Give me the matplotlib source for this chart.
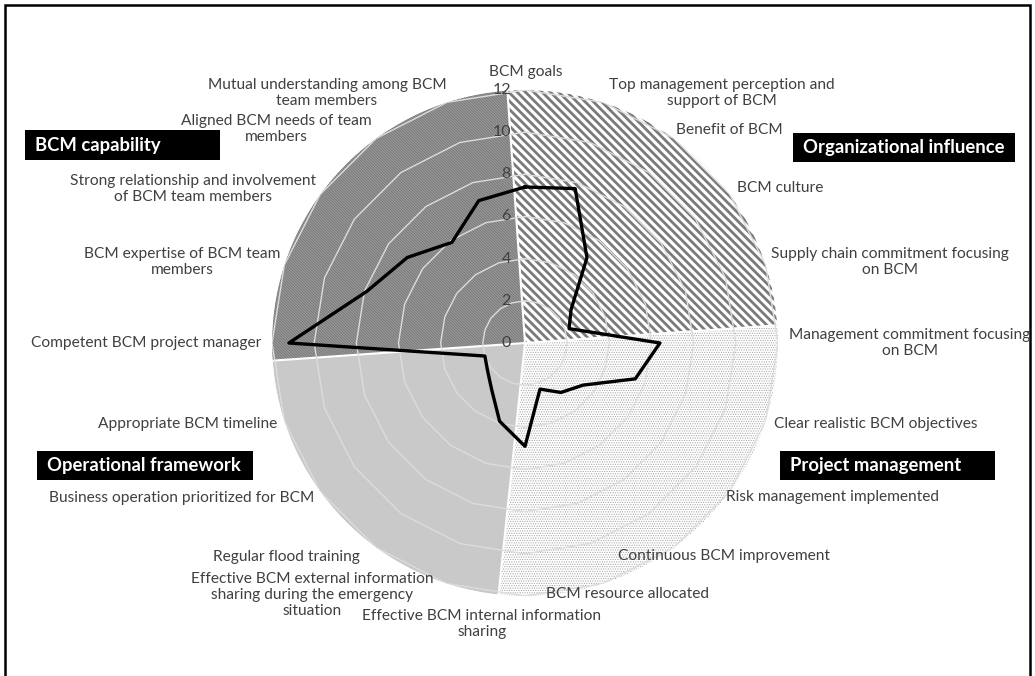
import numpy as np
import matplotlib.pyplot as plt
from matplotlib.patches import Rectangle

# Radar categories, clockwise from the top
categories = [
    "BCM goals",
    "Top management perception and\nsupport of BCM",
    "Benefit of BCM",
    "BCM culture",
    "Supply chain commitment focusing\non BCM",
    "Management commitment focusing\non BCM",
    "Clear realistic BCM objectives",
    "Risk management implemented",
    "Continuous BCM improvement",
    "BCM resource allocated",
    "Effective BCM internal information\nsharing",
    "Effective BCM external information\nsharing during the emergency\nsituation",
    "Regular flood training",
    "Business operation prioritized for BCM",
    "Appropriate BCM timeline",
    "Competent BCM project manager",
    "BCM expertise of BCM team\nmembers",
    "Strong relationship and involvement\nof BCM team members",
    "Aligned BCM needs of team\nmembers",
    "Mutual understanding among BCM\nteam members",
]
scores = [7.4, 7.7, 5.0, 2.7, 2.2, 6.4, 5.5, 3.4, 2.9, 2.3,
          4.9, 3.9, 2.7, 2.2, 2.0, 11.2, 7.9, 6.9, 5.9, 7.1]
ticks = [0, 2, 4, 6, 8, 10, 12]
groups = ["BCM capability", "Organizational influence",
          "Project management", "Operational framework"]

W, H = 1035, 676
cx, cy, R = 525, 343, 253
TEXT = "#404040"

plt.rcParams['font.family'] = ['Lato', 'DejaVu Sans']
fig = plt.figure(figsize=(W / 100, H / 100), dpi=100)

ax = fig.add_axes([(cx - R) / W, (H - cy - R) / H, 2 * R / W, 2 * R / H],
                  projection='polar')
ax.set_theta_zero_location('N')
ax.set_theta_direction(-1)
ax.set_ylim(0, ticks[-1])
ax.axis('off')

# background sectors (start deg, span deg, face, hatch, hatch colour, hatch lw)
sectors = [
    (266, 90, '#9c9c9c', '\\' * 12, '#787878', 0.7),
    (-4, 90, 'white', '\\' * 4, '#7a7a7a', 2.0),
    (86, 100, 'white', '.' * 7, '#a3a3a3', 0.5),
    (186, 80, '#c9c9c9', None, None, 1.0),
]
for start, span, face, hatch, hcol, hlw in sectors:
    th = np.deg2rad(start + span / 2)
    ax.bar(th, ticks[-1], width=np.deg2rad(span), bottom=0, color=face,
           edgecolor='none', zorder=1)
    if hatch:
        with plt.rc_context({'hatch.linewidth': hlw}):
            b = ax.bar(th, ticks[-1], width=np.deg2rad(span), bottom=0,
                       facecolor='none', edgecolor=hcol, linewidth=0,
                       hatch=hatch, zorder=2)
        for p in b:
            if hasattr(p, 'set_hatch_linewidth'):
                p.set_hatch_linewidth(hlw)

# white seams between the sectors
for start, span, *_ in sectors:
    ax.plot([np.deg2rad(start)] * 2, [0, ticks[-1]], color='white',
            lw=1.5, zorder=2.5)

angles = np.deg2rad(np.arange(len(categories)) * 360 / len(categories))
closed = np.append(angles, angles[0])

# polygon gridlines
for t in ticks[1:]:
    ax.plot(closed, [t] * len(closed), color='#dcdcdc', lw=1, zorder=3)

# radial tick labels
for t in ticks:
    ax.annotate(str(t), xy=(0, t), xytext=(-14, 0), textcoords='offset pixels',
                ha='right', va='center', fontsize=11.5, color=TEXT, zorder=6)

# data line
ax.plot(closed, scores + scores[:1], color='black', lw=2.4, zorder=5)

# category labels (pixel centres)
label_xy = [(526, 72), (722, 93), (729, 130), (780, 188), (890, 262),
            (910, 343), (876, 424), (832, 497), (724, 556), (627, 594),
            (482, 624), (312, 595), (286, 557), (182, 498), (188, 424),
            (146, 343), (182, 262), (193, 189), (276, 129), (327, 93)]
for lab, (x, y) in zip(categories, label_xy):
    fig.text(x / W, 1 - y / H, lab, ha='center', va='center',
             multialignment='center', fontsize=11.2, color=TEXT,
             linespacing=1.2)

# group boxes
boxes = [(25, 130, 195, 30), (793, 133, 222, 29),
         (780, 451, 215, 29), (37, 451, 216, 29)]
for g, (x, y, w, h) in zip(groups, boxes):
    fig.patches.append(Rectangle((x / W, 1 - (y + h) / H), w / W, h / H,
                                 transform=fig.transFigure, facecolor='black',
                                 edgecolor='none'))
    fig.text((x + 10) / W, 1 - (y + h / 2) / H, g, ha='left', va='center',
             fontsize=13.3, fontweight='bold', color='white')

# outer frame
fig.patches.append(Rectangle((5 / W, -0.05), 1025 / W, 1.05 - 5 / H,
                             transform=fig.transFigure, fill=False,
                             edgecolor='black', linewidth=1.8))

fig.savefig('out.png', dpi=100, facecolor='white')
